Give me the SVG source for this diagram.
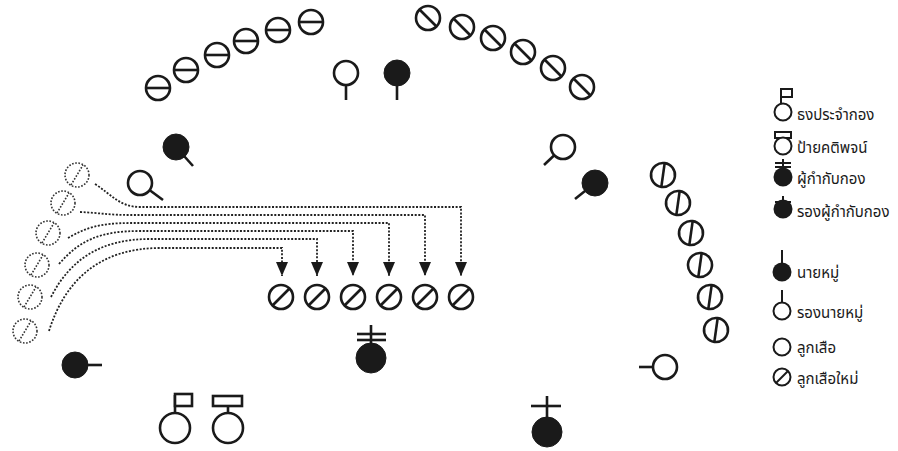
<svg xmlns="http://www.w3.org/2000/svg" xmlns:xlink="http://www.w3.org/1999/xlink" width="898" height="451" viewBox="0 0 898 451">
<style>
.o{fill:#fff;stroke:#1a1a1a;stroke-width:2.6}
.f{fill:#1a1a1a;stroke:#1a1a1a;stroke-width:1}
.l{stroke:#1a1a1a;stroke-width:2.6;fill:none}
.d{fill:#fff;stroke:#333;stroke-width:1.6;stroke-dasharray:1.6 1.6}
.dl{stroke:#333;stroke-width:1.6;stroke-dasharray:1.6 1.6;fill:none}
.c{stroke:#222;stroke-width:1.8;stroke-dasharray:2 1.6;fill:none}
.lo{fill:#fff;stroke:#1a1a1a;stroke-width:2}
.lf{fill:#1a1a1a}
.ll{stroke:#1a1a1a;stroke-width:2;fill:none}
text{font-family:"Noto Sans Thai","Noto Sans","DejaVu Sans",sans-serif;font-size:15px;fill:#1a1a1a}
</style>
<defs>
<g id="sH"><circle class="o" r="12"/><line class="l" x1="-12" y1="0" x2="12" y2="0"/></g>
<g id="sB"><circle class="o" r="12"/><line class="l" x1="-8.5" y1="-8.5" x2="8.5" y2="8.5"/></g>
<g id="sS"><circle class="o" r="12"/><line class="l" x1="-8.5" y1="8.5" x2="8.5" y2="-8.5"/></g>
<g id="sV"><circle class="o" r="12"/><line class="l" x1="0" y1="-12" x2="0" y2="12"/></g>
<g id="sD"><circle class="d" r="12"/><line class="dl" x1="-6" y1="10" x2="6" y2="-10"/></g>
<marker id="ah" markerUnits="userSpaceOnUse" markerWidth="12" markerHeight="14" refX="6" refY="14" orient="0" viewBox="0 0 12 14"><path d="M0,0 L12,0 L6,14 z" fill="#1a1a1a"/></marker>
</defs>

<!-- top-left arc -->
<g id="tl1"><use xlink:href="#sH" x="158" y="88"/></g>
<g id="tl2"><use xlink:href="#sH" x="186" y="70"/></g>
<g id="tl3"><use xlink:href="#sH" x="217" y="55"/></g>
<g id="tl4"><use xlink:href="#sH" x="246" y="41"/></g>
<g id="tl5"><use xlink:href="#sH" x="278" y="30"/></g>
<g id="tl6"><use xlink:href="#sH" x="311" y="22"/></g>

<!-- top-right arc -->
<g id="tr1"><use xlink:href="#sB" x="428" y="18"/></g>
<g id="tr2"><use xlink:href="#sB" x="462" y="27"/></g>
<g id="tr3"><use xlink:href="#sB" x="493" y="38"/></g>
<g id="tr4"><use xlink:href="#sB" x="523" y="52"/></g>
<g id="tr5"><use xlink:href="#sB" x="553" y="68"/></g>
<g id="tr6"><use xlink:href="#sB" x="582" y="87"/></g>

<!-- top center -->
<g id="vpl"><line class="l" x1="346" y1="85" x2="346" y2="100"/><circle class="o" cx="346" cy="73" r="12"/></g>
<g id="pl"><line class="l" x1="397" y1="85" x2="397" y2="100"/><circle class="f" cx="397" cy="73" r="13"/></g>

<!-- left diagonal leaders -->
<g id="lpl"><line class="l" x1="176" y1="147" x2="193" y2="166"/><circle class="f" cx="176" cy="147" r="13"/></g>
<g id="lvpl"><line class="l" x1="140" y1="183" x2="163" y2="200"/><circle class="o" cx="140" cy="183" r="12"/></g>

<!-- right diagonal leaders -->
<g id="rvpl"><line class="l" x1="563" y1="147" x2="544" y2="165"/><circle class="o" cx="563" cy="147" r="12"/></g>
<g id="rpl"><line class="l" x1="595" y1="183" x2="575" y2="199"/><circle class="f" cx="595" cy="183" r="13"/></g>

<!-- right arc -->
<g id="ra1"><use xlink:href="#sV" transform="translate(663,175) rotate(8)"/></g>
<g id="ra2"><use xlink:href="#sV" transform="translate(678,203) rotate(8)"/></g>
<g id="ra3"><use xlink:href="#sV" transform="translate(691,233) rotate(8)"/></g>
<g id="ra4"><use xlink:href="#sV" transform="translate(700,265) rotate(8)"/></g>
<g id="ra5"><use xlink:href="#sV" transform="translate(710,297) rotate(8)"/></g>
<g id="ra6"><use xlink:href="#sV" transform="translate(716,330) rotate(8)"/></g>

<!-- right low -->
<g id="rlow"><line class="l" x1="639" y1="367" x2="653" y2="367"/><circle class="o" cx="665" cy="367" r="12"/></g>

<!-- left dashed new scouts -->
<g id="dn1"><use xlink:href="#sD" x="77" y="175"/></g>
<g id="dn2"><use xlink:href="#sD" x="63" y="203"/></g>
<g id="dn3"><use xlink:href="#sD" x="48" y="233"/></g>
<g id="dn4"><use xlink:href="#sD" x="37" y="265"/></g>
<g id="dn5"><use xlink:href="#sD" x="30" y="297"/></g>
<g id="dn6"><use xlink:href="#sD" x="25" y="331"/></g>

<!-- bottom row new scouts -->
<g id="bn1"><use xlink:href="#sS" x="281" y="297"/></g>
<g id="bn2"><use xlink:href="#sS" x="317" y="297"/></g>
<g id="bn3"><use xlink:href="#sS" x="353" y="297"/></g>
<g id="bn4"><use xlink:href="#sS" x="389" y="297"/></g>
<g id="bn5"><use xlink:href="#sS" x="425" y="297"/></g>
<g id="bn6"><use xlink:href="#sS" x="461" y="297"/></g>

<!-- connectors -->
<g id="connectors">
<path class="c" d="M95,184 C112,195 120,207 140,207 L461,207 L461,276" marker-end="url(#ah)"/>
<path class="c" d="M80,212 C100,213 110,215 130,215 L425,215 L425,276" marker-end="url(#ah)"/>
<path class="c" d="M68,238 C85,228 100,223 130,223 L389,223 L389,276" marker-end="url(#ah)"/>
<path class="c" d="M59,264 C80,240 100,231 140,231 L353,231 L353,276" marker-end="url(#ah)"/>
<path class="c" d="M51,297 C70,260 100,239 150,239 L317,239 L317,276" marker-end="url(#ah)"/>
<path class="c" d="M49,331 C65,280 100,248 160,248 L282,248 L282,276" marker-end="url(#ah)"/>
</g>

<!-- center leader -->
<g id="leader"><line class="l" x1="371" y1="325" x2="371" y2="345"/><line class="l" x1="357" y1="334" x2="386" y2="334"/><line class="l" x1="357" y1="340" x2="386" y2="340"/><circle class="f" cx="371" cy="358" r="15"/></g>

<!-- left low -->
<g id="llow"><line class="l" x1="85" y1="365" x2="102" y2="365"/><circle class="f" cx="75" cy="365" r="13"/></g>

<!-- bottom flags -->
<g id="flag"><line class="l" x1="175" y1="395" x2="175" y2="413"/><rect class="o" x="175" y="394" width="17" height="12"/><circle class="o" cx="175" cy="428" r="15"/></g>
<g id="motto"><line class="l" x1="228" y1="406" x2="228" y2="413"/><rect class="o" x="213" y="396" width="29" height="10"/><circle class="o" cx="228" cy="428" r="15"/></g>

<!-- asst leader -->
<g id="aleader"><line class="l" x1="547" y1="396" x2="547" y2="420"/><line class="l" x1="531" y1="406" x2="561" y2="406"/><circle class="f" cx="547" cy="432" r="15"/></g>

<!-- legend -->
<g id="legend">
<g id="lg1"><line class="ll" x1="781" y1="89" x2="781" y2="104"/><rect class="lo" x="781" y="89" width="11" height="8"/><circle class="lo" cx="783" cy="112" r="8.5"/><text x="797" y="120">ธงประจำกอง</text></g>
<g id="lg2"><line class="ll" x1="783" y1="138" x2="783" y2="137"/><rect class="lo" x="775" y="132" width="16" height="6"/><circle class="lo" cx="783" cy="146" r="8.5"/><text x="797" y="153">ป้ายคติพจน์</text></g>
<g id="lg3"><line class="ll" x1="783" y1="159" x2="783" y2="170"/><line class="ll" x1="775" y1="163" x2="791" y2="163"/><line class="ll" x1="775" y1="167" x2="791" y2="167"/><circle class="lf" cx="783" cy="177" r="9.5"/><text x="797" y="184">ผู้กำกับกอง</text></g>
<g id="lg4"><line class="ll" x1="783" y1="196" x2="783" y2="202"/><line class="ll" x1="775" y1="202" x2="791" y2="202"/><circle class="lf" cx="783" cy="209" r="9.5"/><text x="797" y="217">รองผู้กำกับกอง</text></g>
<g id="lg5"><line class="ll" x1="782" y1="250" x2="782" y2="265"/><circle class="lf" cx="782" cy="272" r="9.5"/><text x="797" y="278">นายหมู่</text></g>
<g id="lg6"><line class="ll" x1="782" y1="290" x2="782" y2="303"/><circle class="lo" cx="782" cy="311" r="8.5"/><text x="797" y="318">รองนายหมู่</text></g>
<g id="lg7"><circle class="lo" cx="782" cy="347" r="8.5"/><text x="797" y="353">ลูกเสือ</text></g>
<g id="lg8"><circle class="lo" cx="782" cy="377" r="8.5"/><line class="ll" x1="776" y1="383" x2="788" y2="371"/><text x="797" y="384">ลูกเสือใหม่</text></g>
</g>
</svg>
